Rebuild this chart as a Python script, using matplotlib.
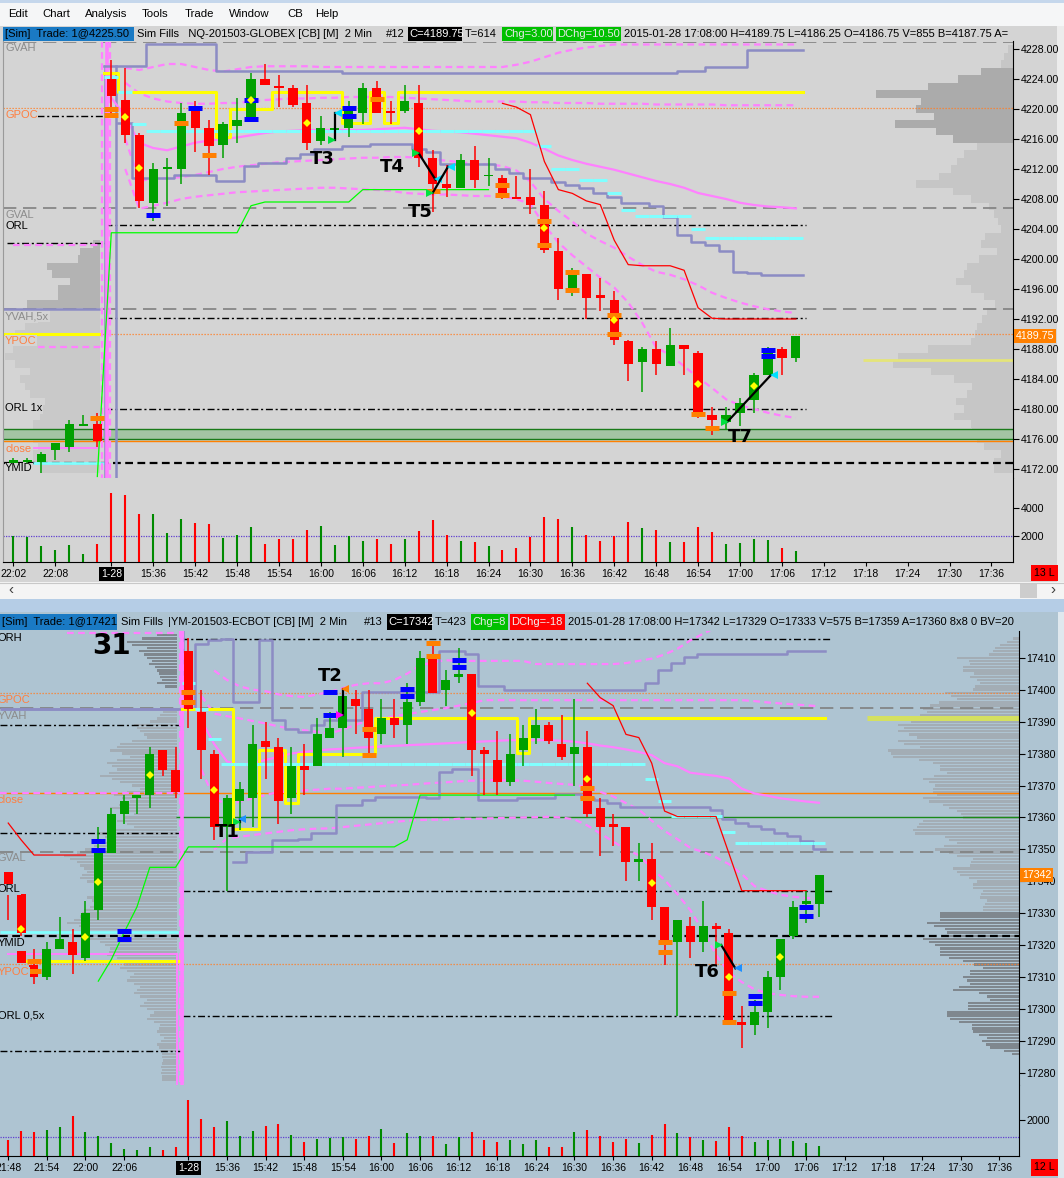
import numpy as np
import matplotlib.pyplot as plt
import matplotlib.transforms as mtransforms
from matplotlib.patches import Rectangle

plt.rcParams['font.family'] = ['Liberation Sans', 'DejaVu Sans']

nan = np.nan
W, H = 1064, 1178

TOP_BG = '#d4d4d4'
BOT_BG = '#aec4d2'
RED = '#ff0000'
GREEN = '#00a000'
VOL_GREEN = '#008a00'
PINK = '#ff80ff'
SLATE = '#8c8cc4'
ORANGE = '#ff8000'

# ================= top chart: NQ 03-15, 2 min bars =================
# bar index 0 = first bar of the 1-28 session (15:30), negative = previous evening
nq_first = -7
nq_open = [4172.75, 4173.0, 4173.0, 4174.5, 4175.0, 4177.75, 4178.0,
           4224.0, 4221.25, 4216.5, 4207.5, 4212.0, 4212.0, 4220.25, 4217.5, 4215.25, 4217.75,
           4218.5, 4224.0, 4223.0, 4222.75, 4220.75, 4215.75, 4217.25, 4217.5, 4219.5, 4222.75,
           4219.75, 4219.75, 4220.75, 4213.5, 4210.0, 4209.5, 4213.25, 4211.0, 4210.75, 4208.25,
           4208.25, 4207.25, 4201.0, 4196.0, 4198.0, 4195.25, 4194.5, 4189.0, 4186.25, 4188.0,
           4185.75, 4188.5, 4187.5, 4179.25, 4178.25, 4179.5, 4181.25, 4184.5, 4188.0, 4186.75]
nq_high = [4173.5, 4173.5, 4174.25, 4175.5, 4178.5, 4179.25, 4179.5,
           4226.5, 4225.5, 4216.75, 4212.75, 4213.5, 4220.75, 4221.0, 4218.5, 4218.25, 4221.5,
           4224.75, 4226.0, 4224.5, 4223.25, 4223.25, 4219.0, 4219.25, 4221.0, 4223.5, 4223.75,
           4221.0, 4223.25, 4223.25, 4214.5, 4212.5, 4214.0, 4215.0, 4213.5, 4211.25, 4211.0,
           4212.0, 4209.0, 4202.75, 4198.75, 4198.0, 4197.5, 4195.75, 4189.25, 4188.25, 4189.0,
           4190.75, 4188.5, 4187.75, 4180.25, 4180.25, 4181.5, 4184.75, 4188.25, 4188.25, 4189.75]
nq_low = [4172.5, 4172.75, 4171.5, 4173.25, 4174.25, 4177.75, 4175.0,
          4219.0, 4215.5, 4206.75, 4205.0, 4207.0, 4210.0, 4214.25, 4211.25, 4213.5, 4215.5,
          4218.25, 4223.25, 4220.25, 4220.25, 4214.5, 4215.25, 4216.0, 4216.25, 4218.0, 4219.5,
          4218.0, 4219.5, 4212.25, 4206.25, 4208.25, 4209.5, 4209.5, 4209.75, 4208.0, 4208.0,
          4206.0, 4200.75, 4194.5, 4195.0, 4192.0, 4193.0, 4188.5, 4183.75, 4182.25, 4184.5,
          4185.75, 4184.5, 4178.75, 4176.5, 4177.25, 4177.75, 4179.5, 4184.5, 4184.5, 4186.25]
nq_close = [4173.25, 4173.25, 4174.0, 4175.5, 4178.0, 4178.0, 4175.75,
            4221.75, 4216.5, 4207.75, 4212.0, 4212.25, 4219.5, 4217.5, 4215.0, 4218.0, 4218.5,
            4224.0, 4223.25, 4222.75, 4220.5, 4215.5, 4217.5, 4217.5, 4220.25, 4222.75, 4219.5,
            4219.5, 4221.0, 4213.5, 4210.0, 4209.5, 4213.25, 4210.5, 4211.25, 4208.25, 4208.0,
            4207.25, 4201.25, 4196.0, 4198.0, 4194.75, 4194.75, 4189.25, 4186.0, 4188.0, 4186.0,
            4188.5, 4188.0, 4179.0, 4178.5, 4179.25, 4180.75, 4184.5, 4187.5, 4186.75, 4189.75]
nq_volume = [2000, 1930, 1250, 960, 1320, 660, 1390,
             5140, 4970, 3590, 3590, 2220, 3220, 2900, 2860, 1830, 2050,
             2640, 1390, 1760, 1760, 2420, 2710, 1320, 1980, 1610, 1760,
             1390, 1760, 2340, 3150, 2050, 1610, 1540, 1250, 960, 1100,
             1900, 3370, 3220, 2640, 2050, 1610, 2000, 3000, 2560, 2420,
             1560, 1560, 2640, 2270, 1420, 1490, 1760, 1710, 1100, 855]
nq_volume_avg = 2000

nq_time_labels = ['22:02', '22:08', '1-28', '15:36', '15:42', '15:48', '15:54', '16:00',
                  '16:06', '16:12', '16:18', '16:24', '16:30', '16:36', '16:42', '16:48',
                  '16:54', '17:00', '17:06', '17:12', '17:18', '17:24', '17:30', '17:36']
nq_price_ticks = [4172, 4176, 4180, 4184, 4188, 4192, 4196, 4200, 4204, 4208, 4212,
                  4216, 4220, 4224, 4228]
nq_last = 4189.75

# session indicators, index 0..49
nq_vwap = [4221.5, 4219, 4215.5, 4214.8, 4214.5, 4215, 4215.5, 4215.8, 4216, 4216.2,
           4216.5, 4216.8, 4217, 4217.1, 4217.2, 4217.2, 4217.2, 4217.2, 4217.2, 4217.3,
           4217.4, 4217.5, 4217.3, 4217.1, 4217, 4216.9, 4216.7, 4216.5, 4216.3, 4216.1,
           4215.5, 4214.7, 4213.8, 4213.2, 4212.7, 4212.3, 4211.9, 4211.4, 4210.9, 4210.4,
           4210, 4209.5, 4208.8, 4208.4, 4208, 4207.5, 4207.2, 4207, 4206.9, 4206.75]
nq_band_u1 = [nan, 4223.5, 4222.1, 4221.4, 4221, 4220.8, 4220.7, 4220.7, 4220.8, 4220.8,
              4221, 4221.2, 4221.3, 4221.4, 4221.4, 4221.5, 4221.5, 4221.6, 4221.6, 4221.6,
              4221.6, 4221.5, 4221.4, 4221.3, 4221.2, 4221.1, 4221, 4221, 4221, 4221,
              4220.9, 4220.9, 4220.8, 4220.8, 4220.8, 4220.7, 4220.7, 4220.7, 4220.7, 4220.6,
              4220.6, 4220.6, 4220.6, 4220.6, 4220.5, 4220.5, 4220.5, 4220.5, 4220.5, 4220.5]
nq_band_u2 = [nan, 4225.5, 4225.2, 4225.6, 4226, 4226, 4225.6, 4225.2, 4225, 4225.3,
              4225.6, 4225.7, 4225.7, 4225.7, 4225.7, 4225.6, 4225.6, 4225.6, 4225.6, 4225.6,
              4225.6, 4225.6, 4225.6, 4225.6, 4225.6, 4225.6, 4225.6, 4225.6, 4225.6, 4225.9,
              4226.3, 4226.9, 4227.5, 4227.9, 4228.2, 4228.4, 4228.6, 4228.6, 4228.6, 4228.6,
              4228.6, 4228.6, 4228.6, 4228.6, 4228.6, 4228.6, 4228.6, 4228.6, 4228.6, 4228.6]
nq_band_l1 = [nan, 4216, 4210.5, 4210.6, 4210.8, 4210.9, 4211.2, 4211.6, 4212, 4212.3,
              4212.5, 4212.7, 4212.9, 4213, 4213.1, 4213.2, 4213.3, 4213.4, 4213.5, 4213.5,
              4213.6, 4213.6, 4213.5, 4213.3, 4213.1, 4212.9, 4212.7, 4212.6, 4212.4, 4211.8,
              4210.3, 4208, 4206.4, 4205, 4203.4, 4202.4, 4201.5, 4200.3, 4199.2, 4198.3,
              4197.9, 4197.3, 4196.5, 4195.5, 4194.8, 4194.2, 4193.7, 4193.3, 4193, 4192.8]
nq_band_l2 = [nan, 4212, 4206.7, 4207.1, 4207.5, 4208, 4208.3, 4208.5, 4208.7, 4208.9,
              4209, 4209.1, 4209.2, 4209.3, 4209.4, 4209.5, 4209.5, 4209.4, 4209.3, 4209.2,
              4209.1, 4208.8, 4208.7, 4208.6, 4208.6, 4208.5, 4208.4, 4208.4, 4208.3, 4208,
              4207.3, 4204.5, 4202.2, 4200.5, 4199, 4197.5, 4196.2, 4194.2, 4191.5, 4188.2,
              4187.2, 4185.7, 4184.2, 4182.8, 4181.3, 4180.5, 4180, 4179.5, 4179.1, 4178.8]
nq_channel_hi = [4225.75, 4225.75, 4225.75, 4228.6, 4228.6, 4228.6, 4228.6, 4228.6, 4225.0, 4225.0,
                 4225.0, 4225.0, 4225.0, 4225.0, 4225.0, 4225.0, 4225.0, 4224.75, 4224.75, 4224.75,
                 4224.75, 4224.75, 4224.75, 4224.75, 4224.75, 4224.75, 4224.75, 4224.75, 4224.75, 4224.75,
                 4224.75, 4224.75, 4224.75, 4224.75, 4224.75, 4224.75, 4224.75, 4224.75, 4224.75, 4224.75,
                 4224.75, 4225.0, 4225.0, 4225.6, 4225.6, 4225.6, 4227.9, 4227.9, 4227.9, 4227.9]
nq_channel_lo = [nan, 4218.1, 4210.75, 4210.75, 4210.75, 4211.2, 4211.2, 4211.2, 4210.4, 4210.4,
                 4212.4, 4212.8, 4212.8, 4213.5, 4214.0, 4214.6, 4214.6, 4215.0, 4215.0, 4215.3,
                 4215.3, 4215.3, 4214.6, 4214.3, 4212.6, 4212.6, 4212.6, 4212.6, 4212.0, 4211.5,
                 4210.8, 4210.8, 4210.3, 4209.9, 4209.5, 4208.8, 4208.3, 4207.5, 4207.5, 4207.0,
                 4205.6, 4203.2, 4202.3, 4201.9, 4201.1, 4198.3, 4198.1, 4197.9, 4197.9, 4197.9]
nq_ib = ([4224.75] + [4222.25] * 7 + [4216.25] + [4220.0] * 3 + [4222.25] * 5
         + [4218.1] * 2 + [4222.25] + [4218.1] + [4222.25] * 29)
nq_poc = ([4224.25, 4222.25, 4218.0] + [4217.0] * 28 + [4215.0] + [4212.0] * 2 + [4210.5] * 2
          + [4208.75, 4206.5] + [4205.75] * 4 + [4204.0] + [4202.75] * 7)
nq_green_first = -1
nq_green = [4171.0] + [4203.5] * 10 + [4207.1] + [4207.6] * 7 + [4209.25] * 10
nq_red_first = 28
nq_red = [4220.75, 4220.25, 4219.25, 4213.0, 4209.25, 4208.75, 4207.75, 4207.25, 4202.5,
          4199.25, 4199.1, 4199.1, 4199.1, 4198.5, 4193.5, 4192.1, 4192.0, 4192.0, 4192.0,
          4192.0, 4192.0, 4192.0]

# order-flow marks (bar index, price)
nq_orange_idx = [-1, 0, 0, 5, 7, 19, 23, 28, 28, 31, 31, 33, 33, 36, 36, 42, 43]
nq_orange_px = [4178.8, 4220.0, 4219.2, 4218.1, 4213.9, 4221.3, 4209.0, 4209.9, 4208.5,
                4205.1, 4201.9, 4198.3, 4195.9, 4192.5, 4190.0, 4179.3, 4177.5]
nq_blue_idx = [3, 6, 10, 10, 17, 17, 47, 47]
nq_blue_px = [4205.9, 4220.2, 4221.2, 4218.7, 4220.2, 4219.1, 4187.8, 4187.1]
nq_dot_idx = [1, 2, 10, 14, 22, 31, 36, 42, 46]
nq_dot_px = [4218.9, 4212.2, 4221.2, 4218.2, 4217.0, 4204.2, 4191.9, 4183.3, 4183.0]

# trades: entry bar, entry price, exit bar, exit price, label, label bar, label price
nq_trades = [(16.0, 4215.9, 16.0, 4219.5, 'T3', 15.1, 4213.3),
             (22.0, 4214.1, 23.2, 4210.6, 'T4', 20.1, 4212.3),
             (23.0, 4208.8, 24.1, 4212.3, 'T5', 22.1, 4206.3),
             (44.1, 4178.3, 47.2, 4184.5, 'T7', 45.0, 4176.3)]

# horizontal reference levels: price, from bar, to bar (None = edge), style
nq_levels = [(4228.9, None, None, 'gray_dash'),
             (4220.1, None, None, 'orange_dot'),
             (4219.1, -5.3, -0.45, 'black_dashdot'),
             (4206.75, None, None, 'gray_dash'),
             (4204.5, -0.45, 49.7, 'black_dashdot'),
             (4202.1, -7.45, -0.45, 'black_dashdot'),
             (4193.3, None, None, 'gray_dash'),
             (4192.2, -0.45, 49.7, 'black_dashdot'),
             (4190.0, None, None, 'orange_dot'),
             (4180.0, -0.45, 49.7, 'black_dashdot'),
             (4175.75, None, None, 'orange_solid'),
             (4172.75, None, None, 'ymid'),
             (4201.9, -7.0, -0.8, 'pink_dash'),
             (4188.3, -5.25, -0.8, 'pink_dash'),
             (4174.8, -5.6, -0.8, 'pink_solid'),
             (4172.8, -5.6, -0.45, 'cyan'),
             (4190.0, None, -0.65, 'yellow'),
             (4193.3, None, -0.8, 'slate'),
             (4186.5, 53.8, None, 'yellow_pale')]
nq_vlines = [(-0.45, 4225.75, None, 'slate'), (0.34, 4225.75, None, 'slate'),
             (-0.69, None, None, 'pink_dash'), (-0.31, None, None, 'pink_thick'),
             (-0.09, None, None, 'pink_dash')]
nq_zone = (4175.95, 4177.4)

nq_level_labels = [('GVAH', 4228.1, '#8c8c8c'), ('GPOC', 4219.2, '#ff7f40'),
                   ('ORL', 4204.4, 'black'), ('GVAL', 4205.9, '#8c8c8c'),
                   ('YVAH,5x', 4192.3, '#8c8c8c'), ('YPOC', 4189.1, '#ff7f40'),
                   ('ORL 1x', 4180.1, 'black'), ('close', 4174.7, '#ff7f40'),
                   ('YMID', 4172.1, 'black')]

# volume at price (pixels of bar length), one value per point, top price first
nq_profile_top = 4228
nq_profile = [5, 9, 12, 32, 55, 85, 137, 92, 97, 79,
              118, 77, 60, 36, 49, 56, 62, 74, 97, 60,
              42, 24, 19, 15, 12, 28, 32, 16, 34, 46,
              49, 57, 42, 29, 18, 26, 31, 36, 38, 42,
              85, 115, 120, 82, 59, 41, 46, 57, 49, 59,
              42, 41, 36, 29, 12, 19, 19]
nq_profile_va = (4216, 4225)
nq_prev_profile_top = 4202
nq_prev_profile = [7, 20, 22, 53, 48, 30, 42, 42, 73, 60, 62, 75, 85, 90, 87, 95, 85, 70,
                   80, 75, 70, 55, 60, 60, 67, 67, 67, 62, 67, 67, 60]
nq_prev_profile_va = (4194, 4202)

# ================= bottom chart: YM 03-15, 2 min bars =================
ym_first = -14
ym_open = [17343, 17336, 17314, 17310, 17319, 17321, 17316, 17331, 17349, 17361, 17366, 17367, 17381, 17375,
           17412, 17393, 17380, 17357, 17365, 17366, 17384, 17382, 17366, 17376,
           17376, 17385, 17388, 17397, 17394, 17386, 17391, 17389, 17396, 17410,
           17400, 17404, 17405, 17381, 17378, 17371, 17381, 17385, 17389, 17383,
           17380, 17382, 17363, 17358, 17357, 17346, 17347, 17332, 17321, 17326,
           17321, 17326, 17324, 17296, 17295, 17299, 17310, 17323, 17333, 17333]
ym_high = [17343, 17336, 17319, 17321, 17329, 17325, 17334, 17357, 17363, 17367, 17367, 17382, 17381, 17382,
           17416, 17400, 17381, 17367, 17371, 17389, 17390, 17385, 17382, 17383,
           17391, 17393, 17400, 17400, 17400, 17397, 17397, 17402, 17412, 17414,
           17406, 17413, 17405, 17382, 17387, 17386, 17389, 17394, 17390, 17392,
           17397, 17387, 17366, 17361, 17357, 17352, 17352, 17332, 17328, 17329,
           17334, 17327, 17325, 17301, 17303, 17312, 17322, 17334, 17337, 17342]
ym_low = [17328, 17323, 17308, 17309, 17319, 17311, 17315, 17328, 17349, 17358, 17361, 17363, 17373, 17366,
          17388, 17372, 17353, 17337, 17356, 17357, 17372, 17358, 17361, 17367,
          17376, 17385, 17379, 17386, 17379, 17383, 17385, 17383, 17395, 17399,
          17395, 17402, 17373, 17367, 17367, 17370, 17376, 17383, 17383, 17378,
          17370, 17360, 17348, 17351, 17340, 17340, 17328, 17314, 17298, 17316,
          17318, 17314, 17295, 17288, 17292, 17294, 17306, 17322, 17327, 17329]
ym_close = [17336, 17324, 17310, 17319, 17322, 17317, 17330, 17349, 17361, 17365, 17367, 17380, 17375, 17368,
            17394, 17381, 17357, 17366, 17369, 17383, 17382, 17365, 17376, 17375,
            17386, 17388, 17398, 17395, 17385, 17391, 17389, 17396, 17410, 17399,
            17403, 17405, 17381, 17380, 17371, 17380, 17385, 17389, 17384, 17379,
            17382, 17361, 17357, 17357, 17346, 17347, 17332, 17321, 17328, 17321,
            17326, 17325, 17296, 17295, 17299, 17310, 17322, 17332, 17334, 17342]
ym_volume = [896, 1400, 1315, 1456, 1624, 2184, 1344, 1120, 728, 392, 336, 504, 336, 504,
             3080, 2072, 1624, 1960, 1120, 1400, 1680, 1792, 1176, 784,
             952, 1008, 1045, 952, 1120, 1512, 728, 1288, 1120, 1120,
             672, 1045, 1344, 896, 784, 896, 672, 896, 504, 504,
             1344, 1456, 1120, 784, 952, 728, 1176, 1792, 1288, 1045,
             896, 840, 1624, 1120, 784, 896, 952, 840, 728, 575]
ym_volume_avg = 1030

ym_time_labels = ['21:48', '21:54', '22:00', '22:06', '1-28', '15:36', '15:42', '15:48',
                  '15:54', '16:00', '16:06', '16:12', '16:18', '16:24', '16:30', '16:36',
                  '16:42', '16:48', '16:54', '17:00', '17:06', '17:12', '17:18', '17:24',
                  '17:30', '17:36']
ym_price_ticks = [17280, 17290, 17300, 17310, 17320, 17330, 17340, 17350, 17360, 17370,
                  17380, 17390, 17400, 17410]
ym_last = 17342

ym_vwap = [17400, 17390.5, 17383, 17377.5, 17376.5, 17377, 17378, 17379, 17380, 17380.5,
           17381, 17381.3, 17381.5, 17381.8, 17382, 17382.2, 17382.4, 17382.6, 17382.8, 17383,
           17383.2, 17383.4, 17383.6, 17383.8, 17384, 17384.2, 17384.2, 17384.2, 17384.2, 17384,
           17383.7, 17383.2, 17382.5, 17382, 17381.3, 17380.5, 17379.5, 17377, 17376, 17374,
           17373.5, 17373, 17372.2, 17369, 17367.5, 17366.8, 17366, 17365.5, 17365, 17364.6]
ym_band_u1 = ([nan, 17398, 17392.5, 17391.7, 17391, 17390.2, 17389.4, 17388.5, 17387.7, 17387.3,
               17386.8, 17386.3, 17387.5, 17389, 17390.4, 17391, 17391.7, 17392.3, 17393, 17393.6,
               17394.2, 17395, 17395.8] + [17396.7] * 21 + [17396.4, 17396, 17395.7, 17395.4, 17395.1, 17394.8])
ym_band_u2 = [nan, nan, 17406, 17403, 17401, 17400, 17399.5, 17398.5, 17398, 17397.7,
              17398.5, 17399.3, 17400.5, 17401.5, 17402, 17402, 17403, 17405, 17407.5, 17408.6,
              17409.2, 17409, 17409, 17409, 17409, 17409, 17409, 17408, 17408, 17408,
              17408, 17408, 17408, 17408, 17408.3, 17409, 17409.7, 17411, 17412.8, 17415.4,
              17417.5, 17419.5, 17419.5, 17419.5, 17419.5, 17419.5, 17419.5, 17419.5, 17419.5, 17419.5]
ym_band_l1 = [nan, 17375, 17366, 17364, 17365, 17366, 17367, 17368, 17368, 17368.5,
              17368.7, 17369, 17369, 17369.3, 17369.5, 17369.8, 17370, 17370.2, 17370.5, 17370.8,
              17371, 17371.3, 17371.5, 17371.6, 17371.7, 17371.6, 17371.5, 17371.2, 17370.8, 17370.5,
              17370.2, 17369.5, 17368, 17366.6, 17364.5, 17362.5, 17359, 17355.8, 17353.2, 17350.5,
              17349.2, 17347.5, 17345.4, 17342.3, 17338.5, 17337, 17335.8, 17335.2, 17334.8, 17334.7]
ym_band_l2 = [nan, nan, 17350, 17353.4, 17354, 17354.5, 17355, 17355.5, 17356, 17356.3,
              17356.5, 17356.6, 17357, 17357.4, 17357.8, 17358.2, 17358.6, 17359, 17359.2, 17359.3,
              17359.3, 17359.6, 17359.6, 17359.7, 17359.8, 17359.9, 17360, 17360.1, 17360.2, 17360,
              17359.4, 17357.5, 17355, 17352.5, 17350, 17348.2, 17344, 17340.5, 17336, 17331,
              17324.5, 17317, 17311.5, 17308.5, 17306.2, 17305, 17304.5, 17304.1, 17303.9, 17303.9]
ym_channel_hi_first = -14
ym_channel_hi = ([17394] * 15 + [17414.4, 17415.4, 17415.9, 17396.1, 17396.1, 17415.4, 17390.4, 17387.8,
                 17386.8, 17388.8, 17390.4, 17390.4, 17390.4] + [17399.25] * 6
                 + [17412, 17412, 17411.25, 17401.25, 17401.25] + [17400] * 11
                 + [17402, 17406, 17408.25, 17410.25] + [17411.25] * 7 + [17412] * 3)
ym_channel_lo_first = 4
ym_channel_lo = ([17346.1, 17349.25, 17349.25, 17353, 17353, 17353.4, 17355, 17355, 17363.8, 17363.8,
                  17365.4] + [17366.4] * 4 + [17366, 17374.25, 17375.25, 17375.25]
                 + [17365.5] * 3 + [17366.25] * 3 + [17367.25] * 2 + [17366.25, 17365.5, 17364.5]
                 + [17363.25] * 7 + [17362.25, 17359.5, 17358.25, 17357.25, 17356.25, 17355.25,
                                     17354.25, 17352.5, 17350.25])
ym_ib = ([17394] * 4 + [17356.25] * 2 + [17381] * 2 + [17364.4] + [17380] * 6 + [17391] * 11
         + [17380.25] + [17391] * 23)
ym_poc = ([17402, 17394, 17384.7] + [17376.7] * 33 + [17372, 17365.1] + [17360.4] * 4
          + [17355.5] + [17352.1] * 7)
ym_green_first = -7
ym_green = ([17308.8, 17315.5, 17324, 17332, 17344.4, 17344.4, 17344.4] + [17350.8] * 17
            + [17353] + [17367] * 13)
ym_red_prev_first = -14
ym_red_prev = [17358.25, 17353, 17348.25, 17348.25, 17348.25, 17348.25, 17348.25]
ym_red_first = 31
ym_red = ([17402, 17397.5, 17395, 17386, 17385, 17377, 17362, 17360.3, 17360.3, 17360.3,
           17360.3, 17348.75] + [17337.1] * 6)

ym_orange_idx = [-12, -12, 0, 0, 14, 14, 19, 19, 31, 31, 37, 37, 42, 42]
ym_orange_px = [17315.1, 17312.0, 17399.2, 17396.1, 17387.6, 17379.7, 17414.6, 17410.4,
                17369.25, 17366.25, 17321.1, 17318.0, 17305.2, 17296.1]
ym_blue_idx = [-7, -7, -5, -5, 11, 11, 17, 17, 21, 21, 44, 44, 48, 48]
ym_blue_px = [17352.6, 17349.9, 17324.5, 17322.0, 17399.25, 17392.2, 17400.2, 17398.0,
              17409.2, 17407.1, 17304.25, 17302.0, 17332.1, 17329.25]
ym_dot_idx = [-13, -8, -7, -3, 2, 22, 31, 36, 42, 46]
ym_dot_px = [17325.0, 17322.7, 17339.9, 17373.4, 17368.5, 17392.8, 17371.9, 17339.4,
             17310.0, 17316.4]
ym_extra_body = (-13, 17314.4, 17318.2)

ym_trades = [(4.0, 17358.5, 4.0, 17359.5, 'T1', 3.0, 17355.4),
             (12.0, 17392.0, 12.0, 17400.3, 'T2', 11.0, 17404.2),
             (41.4, 17320.1, 42.5, 17312.8, 'T6', 40.3, 17311.7)]
ym_trade_colors = [('#00e040', '#1e90ff'), ('#ff00ff', '#ff8000'), ('#00e040', '#1e90ff')]

ym_levels = [(17415.9, -0.6, 50, 'black_dashdot'),
             (17399.1, None, None, 'orange_dot'),
             (17394.1, None, None, 'gray_dash'),
             (17389.0, None, -0.6, 'black_dashdot'),
             (17367.8, None, None, 'orange_solid'),
             (17360.0, -1.0, None, 'green_solid'),
             (17355.0, None, -0.6, 'black_dashdot'),
             (17349.1, None, None, 'gray_dash'),
             (17337.0, -0.4, 50, 'black_dashdot'),
             (17323.0, None, None, 'ymid'),
             (17314.2, None, None, 'orange_dot'),
             (17298.0, -0.4, 50, 'black_dashdot'),
             (17286.8, None, -0.6, 'black_dashdot'),
             (17317.2, -14.1, -0.9, 'pink_solid'),
             (17417.6, -9.4, -0.9, 'pink_dash'),
             (17367.6, None, -0.5, 'pink_dash'),
             (17315.2, -12.7, -0.6, 'yellow'),
             (17324.1, None, -0.6, 'cyan'),
             (17394.0, None, -0.6, 'slate'),
             (17391.0, 52.7, None, 'yellow_band')]
ym_vlines = [(-0.9, 17317.2, None, 'pink_solid'), (-0.44, None, 17394.0, 'slate'),
             (-0.65, None, None, 'pink_dash'), (-0.53, None, None, 'pink_thick'),
             (-0.4, None, None, 'pink_dash')]

ym_level_labels = [('ORH', 17416.3, 'black'), ('GPOC', 17396.7, '#ff7f40'),
                   ('YVAH', 17391.7, '#8c8c8c'), ('close', 17365.4, '#ff7f40'),
                   ('ORL', 17337.6, 'black'), ('GVAL', 17347.3, '#8c8c8c'),
                   ('YMID', 17320.7, 'black'), ('YPOC', 17311.6, '#ff7f40'),
                   ('ORL 0,5x', 17298.2, 'black')]

ym_profile_top = 17416
ym_profile = [6, 12, 19, 24, 26, 30, 62, 50, 49, 56,
              56, 45, 49, 42, 39, 44, 46, 74, 68, 62,
              80, 89, 96, 92, 99, 112, 108, 121, 115, 121,
              110, 102, 121, 115, 99, 131, 128, 126, 100, 86,
              79, 79, 72, 85, 96, 90, 84, 86, 86, 82,
              96, 90, 76, 70, 62, 58, 56, 96, 100, 102,
              106, 104, 74, 70, 62, 75, 84, 70, 62, 46,
              48, 49, 66, 62, 59, 50, 42, 46, 46, 36,
              38, 39, 32, 34, 36, 36, 79, 79, 79, 92,
              85, 74, 72, 71, 96, 90, 84, 79, 79, 79,
              70, 56, 45, 36, 49, 49, 56, 52, 49, 60,
              66, 40, 32, 29, 51, 51, 51, 72, 72, 69,
              60, 47, 47, 46, 40, 32, 37, 33, 29, 15,
              7]
ym_profile_va = (17280, 17330)
ym_prev_profile_top = 17417
ym_prev_profile = [20, 35, 50, 45, 30, 38, 33, 30, 25, 28,
                   22, 20, 18, 17, 15, 20, 12, 0, 0, 0,
                   0, 0, 0, 10, 14, 17, 20, 27, 43, 40,
                   37, 33, 30, 45, 57, 60, 67, 55, 47, 60,
                   70, 65, 60, 68, 77, 65, 57, 45, 37, 50,
                   63, 55, 47, 58, 67, 55, 43, 52, 60, 50,
                   43, 62, 80, 72, 67, 75, 83, 92, 100, 113,
                   107, 100, 97, 93, 90, 95, 97, 90, 83, 80,
                   77, 83, 90, 85, 80, 87, 93, 95, 97, 103,
                   110, 98, 87, 93, 100, 88, 77, 72, 67, 68,
                   70, 60, 50, 53, 57, 50, 43, 47, 50, 43,
                   37, 40, 43, 37, 30, 33, 37, 30, 23, 27,
                   30, 23, 17, 18, 20, 17, 13, 16, 20, 18,
                   17, 15, 15, 14, 15, 16, 15, 16, 15, 15]
ym_prev_profile_va = (17401, 17420)

# ---------------------------------------------------------------------
LEVEL_STYLE = {
    'gray_dash': dict(color='#808080', lw=1.2, dashes=(8, 4)),
    'black_dashdot': dict(color='black', lw=1.0, dashes=(5, 2, 1.5, 2)),
    'ymid': dict(color='black', lw=1.6, dashes=(3.5, 2)),
    'orange_dot': dict(color='#ff7f27', lw=0.9, dashes=(1, 1.4)),
    'orange_solid': dict(color=ORANGE, lw=1.0),
    'green_solid': dict(color='#1a8a1a', lw=1.0),
    'pink_dash': dict(color=PINK, lw=1.6, dashes=(3, 2)),
    'pink_solid': dict(color=PINK, lw=1.4),
    'pink_thick': dict(color=PINK, lw=2.6),
    'cyan': dict(color='#80ffff', lw=2.0),
    'yellow': dict(color='#ffff00', lw=2.2),
    'slate': dict(color=SLATE, lw=1.8),
    'yellow_pale': dict(color='#e4e47a', lw=2.0),
    'yellow_band': dict(color='#d4e060', lw=3.6),
}


def bar_index(label):
    if label == '1-28':
        return 0
    h, m = map(int, label.split(':'))
    minutes = h * 60 + m
    if h >= 21:                        # previous evening session, last bar 22:14
        return (minutes - (22 * 60 + 16)) / 2
    return (minutes - (15 * 60 + 30)) / 2


fig = plt.figure(figsize=(W / 100, H / 100), dpi=100)
fig.patch.set_facecolor('#b9d1ea')


def px_axes(x0, y0, x1, y1):
    return fig.add_axes([x0 / W, 1 - y1 / H, (x1 - x0) / W, (y1 - y0) / H])


bg = px_axes(0, 0, W, H)
bg.set_xlim(0, W)
bg.set_ylim(H, 0)
bg.axis('off')


def box(x0, y0, x1, y1, color):
    bg.add_patch(Rectangle((x0, y0), x1 - x0, y1 - y0, facecolor=color, edgecolor='none'))


def label(x, y, s, color='black', size=8.0, ha='left', **kw):
    bg.text(x, y, s, color=color, fontsize=size, ha=ha, va='center', **kw)


# window chrome
box(0, 0, W, 3, '#c5d7ec')
box(0, 3, W, 26, '#f5f6f7')
for x, s in [(8, 'Edit'), (42, 'Chart'), (85, 'Analysis'), (142, 'Tools'), (185, 'Trade'),
             (229, 'Window'), (287, 'CB'), (315, 'Help')]:
    label(x, 14, s, size=8.2)
box(0, 26, W, 582, TOP_BG)
box(1057, 26, W, 582, '#ececec')
box(0, 582, W, 599, '#f4f4f4')
bg.plot([0, W], [582.5, 582.5], color='#c8c8c8', lw=0.8)
box(1020, 584, 1037, 598, '#cdcdcd')
label(8, 590, '\u2039', color='#404040', size=11)
label(1050, 590, '\u203a', color='#404040', size=11)
box(0, 599, W, 612, '#b5cde6')
box(0, 612, W, H, BOT_BG)
box(1058, 612, W, H, '#dfe8ee')

# top header
box(3.4, 27, 134.3, 41, '#1a7ac4')
label(5, 34, '[Sim]  Trade: 1@4225.50')
label(137, 34, 'Sim Fills   NQ-201503-GLOBEX [CB] [M]  2 Min')
label(386, 34, '#12')
box(407.7, 27, 462, 41, 'black')
label(409, 34, 'C=4189.75', color='white')
label(465, 34, 'T=614')
box(502, 27, 553, 41, '#00c000')
label(504, 34, 'Chg=3.00', color='#e8e8e8')
box(555.6, 27, 620.8, 41, '#00c000')
label(557, 34, 'DChg=10.50', color='#e8e8e8')
label(624, 34, '2015-01-28 17:08:00 H=4189.75 L=4186.25 O=4186.75 V=855 B=4187.75 A=')

# bottom header
box(0, 614, 117.4, 630, '#1a7ac4')
label(2, 622, '[Sim]  Trade: 1@17421')
label(121, 622, 'Sim Fills')
label(168, 622, '|YM-201503-ECBOT [CB] [M]  2 Min')
label(364, 622, '#13')
box(386.7, 614, 432, 630, 'black')
label(388, 622, 'C=17342', color='white')
label(435, 622, 'T=423')
box(470.8, 614, 508, 630, '#00c000')
label(472, 622, 'Chg=8', color='#e8e8e8')
box(509.5, 614, 564.5, 630, '#ff0000')
label(511, 622, 'DChg=-18', color='#f0f0f0')
label(568, 622, '2015-01-28 17:08:00 H=17342 L=17329 O=17333 V=575 B=17359 A=17360 8x8 0 BV=20')

# volume captions and bar-count boxes
label(10, 486, 'Volume')
label(57, 486, 'Volume: 855', color='#008a00')
label(3, 1094, 'Volume')
label(51, 1094, 'Volume: 575', color='#008a00')
box(1031, 565, 1058, 581, RED)
label(1044.5, 573, '13 L', ha='center', size=7.7)
box(1031, 1159, 1058, 1176, RED)
label(1044.5, 1167.5, '12 L', ha='center', size=7.7)


# ---------------------------------------------------------------------
def draw_levels(ax, levels):
    xl = ax.get_xlim()
    for p, x0, x1, key in levels:
        ax.plot([xl[0] if x0 is None else x0, xl[1] if x1 is None else x1], [p, p],
                zorder=2, solid_capstyle='butt', **LEVEL_STYLE[key])


def draw_vlines(ax, vlines):
    yl = ax.get_ylim()
    for x, p_top, p_bot, key in vlines:
        ax.plot([x, x], [yl[1] if p_top is None else p_top, yl[0] if p_bot is None else p_bot],
                zorder=2.5, **LEVEL_STYLE[key])


def draw_profile(ax, top, vals, anchor, px_per_bar, va, light, dark, height):
    vals = np.asarray(vals, float)
    prices = top - np.arange(len(vals))
    widths = vals / px_per_bar
    cols = np.where((prices >= va[0]) & (prices <= va[1]), dark, light)
    ax.barh(prices, widths, left=anchor - widths, height=height, color=cols, lw=0, zorder=1)


def step_line(ax, first, vals, **kw):
    vals = np.asarray(vals, float)
    x = np.arange(first, first + len(vals)) - 0.5
    ax.plot(np.append(x, x[-1] + 1), np.append(vals, vals[-1]), drawstyle='steps-post',
            zorder=3, **kw)


def segments(ax, first, vals, **kw):
    vals = np.asarray(vals, float)
    x = np.arange(first, first + len(vals))
    ok = ~np.isnan(vals)
    ax.hlines(vals[ok], x[ok] - 0.5, x[ok] + 0.5, zorder=3, **kw)


def curve(ax, first, vals, **kw):
    ax.plot(np.arange(first, first + len(vals)), vals, zorder=3, **kw)


def draw_candles(ax, first, o, h, l, c, body_w, min_body):
    o, h, l, c = (np.asarray(a, float) for a in (o, h, l, c))
    idx = np.arange(first, first + len(o))
    cols = np.where(c > o, GREEN, RED)
    ax.vlines(idx, l, h, colors=cols, lw=1.1, zorder=4)
    lo = np.minimum(o, c)
    body = np.maximum(np.abs(c - o), min_body)
    ax.bar(idx, body, body_w, bottom=lo - (body - np.abs(c - o)) / 2, color=cols, lw=0, zorder=4.5)


def draw_volume(axv, first, vols, o, c):
    idx = np.arange(first, first + len(vols))
    cols = np.where(np.asarray(c) > np.asarray(o), VOL_GREEN, RED)
    axv.vlines(idx, 0, vols, colors=cols, lw=1.5, zorder=3)


def marks(ax, idx, px, color, marker, ms, mew=0.0, z=5):
    ax.plot(idx, px, ls='none', marker=marker, ms=ms, mew=mew, color=color, mec=color, zorder=z)


def draw_trades(ax, trades, colors):
    for (xi, pi, xo, po, name, lx, lp), (ci, co) in zip(trades, colors):
        ax.plot([xi, xo], [pi, po], color='black', lw=1.6, zorder=6)
        marks(ax, [xi - 0.2], [pi], ci, '>', 6, z=6)
        marks(ax, [xo + 0.2], [po], co, '<', 6, z=6)
        ax.text(lx, lp, name, fontsize=13, fontweight='bold', family='DejaVu Sans',
                ha='center', va='center', zorder=7)


def level_labels(ax, items, x, face):
    for s, p, col in items:
        ax.text(x, p, s, color=col, fontsize=8, ha='left', va='center', zorder=7, clip_on=True,
                bbox=dict(facecolor=face, edgecolor='none', pad=0.4))


def style_axes(ax, axv, face, price_ticks, vol_ticks, time_labels, last, last_fmt, tick_fmt):
    for a in (ax, axv):
        a.set_facecolor(face)
        a.spines['top'].set_visible(False)
        a.spines['left'].set_color('#9a9a9a')
        a.yaxis.tick_right()
        a.tick_params(axis='y', direction='out', length=4, width=0.8, pad=1.5,
                      labelsize=7.7, colors='black')
    ax.spines['bottom'].set_visible(False)
    ax.tick_params(axis='x', bottom=False, labelbottom=False)
    ax.set_yticks(price_ticks)
    ax.set_yticklabels([tick_fmt.format(t) for t in price_ticks])
    axv.set_yticks(vol_ticks)
    axv.set_yticklabels([str(v) for v in vol_ticks])
    axv.set_xticks([bar_index(t) for t in time_labels])
    lbls = axv.set_xticklabels(time_labels)
    axv.tick_params(axis='x', length=3, width=0.8, pad=2, labelsize=7.5)
    for t in lbls:
        if t.get_text() == '1-28':
            t.set_color('white')
            t.set_bbox(dict(facecolor='black', edgecolor='none', pad=1.6))
    tr = mtransforms.blended_transform_factory(ax.transAxes, ax.transData)
    ax.text(1.003, last, last_fmt.format(last), transform=tr, ha='left', va='center',
            color='white', fontsize=7.7, zorder=10, clip_on=False,
            bbox=dict(facecolor=ORANGE, edgecolor='none', pad=1.3))


# ================= top chart =================
nq_px_bar = 13.97
ax1 = px_axes(3.3, 41.5, 1012.7, 478)
ax1v = px_axes(3.3, 478, 1012.7, 562)
ax1.set_xlim(-7.73, 64.52)
ax1.set_ylim(4170.8, 4229.0)
ax1v.set_xlim(-7.73, 64.52)
ax1v.set_ylim(80, 6212)
style_axes(ax1, ax1v, TOP_BG, nq_price_ticks, [2000, 4000], nq_time_labels, nq_last,
           '{:.2f}', '{:.2f}')

draw_profile(ax1, nq_profile_top, nq_profile, 64.52, nq_px_bar, nq_profile_va,
             '#c6c6c6', '#ababab', 1.0)
draw_profile(ax1, nq_prev_profile_top, nq_prev_profile, -0.81, nq_px_bar, nq_prev_profile_va,
             '#c9c9c9', '#b3b3b3', 1.0)
ax1.axhspan(nq_zone[0], nq_zone[1], facecolor='#a3c4a3', edgecolor='none', zorder=1.5)
for p in nq_zone:
    ax1.axhline(p, color='#1a7a1a', lw=1.0, zorder=1.6)
draw_levels(ax1, nq_levels)
draw_vlines(ax1, nq_vlines)

curve(ax1, 0, nq_vwap, color=PINK, lw=1.6)
for band in (nq_band_u1, nq_band_u2, nq_band_l1, nq_band_l2):
    curve(ax1, 0, band, color=PINK, lw=1.6, dashes=(3, 2))
step_line(ax1, 0, nq_channel_hi, color=SLATE, lw=1.8)
step_line(ax1, 0, nq_channel_lo, color=SLATE, lw=1.8)
step_line(ax1, 0, nq_ib, color='#ffff00', lw=2.2)
segments(ax1, 0, nq_poc, color='#80ffff', lw=2.2)
curve(ax1, nq_green_first, nq_green, color='#00ff00', lw=0.9)
curve(ax1, nq_red_first, nq_red, color=RED, lw=0.9)

draw_candles(ax1, nq_first, nq_open, nq_high, nq_low, nq_close, 0.66, 0.2)
marks(ax1, nq_orange_idx, nq_orange_px, ORANGE, '_', 9.4, 3.6)
marks(ax1, nq_blue_idx, nq_blue_px, '#0000ff', '_', 9.4, 3.6)
marks(ax1, nq_dot_idx, nq_dot_px, '#ffff00', 'D', 4.2)
draw_trades(ax1, nq_trades, [('#00e040', '#00e0ff')] * len(nq_trades))
level_labels(ax1, nq_level_labels, -7.6, TOP_BG)

draw_volume(ax1v, nq_first, nq_volume, nq_open, nq_close)
ax1v.axhline(nq_volume_avg, color='#6040d0', lw=0.9, dashes=(1, 1), zorder=2)

# ================= bottom chart =================
ym_px_bar = 12.87
ax2 = px_axes(0, 630.5, 1019, 1085)
ax2v = px_axes(0, 1085, 1019, 1156)
ax2.set_xlim(-14.64, 64.54)
ax2.set_ylim(17276.3, 17418.5)
ax2v.set_xlim(-14.64, 64.54)
ax2v.set_ylim(0, 3923)
style_axes(ax2, ax2v, BOT_BG, ym_price_ticks, [2000], ym_time_labels, ym_last,
           '{:d}', '{:d}')
for a in (ax2, ax2v):
    a.spines['left'].set_visible(False)

draw_profile(ax2, ym_profile_top, ym_profile, 64.54, ym_px_bar, ym_profile_va,
             '#a3adb5', '#7f878e', 0.72)
draw_profile(ax2, ym_prev_profile_top, ym_prev_profile, -0.91, ym_px_bar, ym_prev_profile_va,
             '#a3adb5', '#7f878e', 0.72)
draw_levels(ax2, ym_levels)
draw_vlines(ax2, ym_vlines)

curve(ax2, 0, ym_vwap, color=PINK, lw=1.6)
for band in (ym_band_u1, ym_band_u2, ym_band_l1, ym_band_l2):
    curve(ax2, 0, band, color=PINK, lw=1.6, dashes=(3, 2))
step_line(ax2, ym_channel_hi_first, ym_channel_hi, color=SLATE, lw=1.8)
step_line(ax2, ym_channel_lo_first, ym_channel_lo, color=SLATE, lw=1.8)
step_line(ax2, 0, ym_ib, color='#ffff00', lw=2.2)
segments(ax2, 0, ym_poc, color='#80ffff', lw=2.2)
curve(ax2, ym_green_first, ym_green, color='#00ff00', lw=0.9)
curve(ax2, ym_red_prev_first, ym_red_prev, color=RED, lw=0.9)
curve(ax2, ym_red_first, ym_red, color=RED, lw=0.9)

draw_candles(ax2, ym_first, ym_open, ym_high, ym_low, ym_close, 0.7, 0.5)
ax2.bar(ym_extra_body[0], ym_extra_body[2] - ym_extra_body[1], 0.7, bottom=ym_extra_body[1],
        color=RED, lw=0, zorder=4.5)
marks(ax2, ym_orange_idx, ym_orange_px, ORANGE, '_', 9.4, 3.6)
marks(ax2, ym_blue_idx, ym_blue_px, '#0000ff', '_', 9.4, 3.6)
marks(ax2, ym_dot_idx, ym_dot_px, '#ffff00', 'D', 4.2)
draw_trades(ax2, ym_trades, ym_trade_colors)
level_labels(ax2, ym_level_labels, -14.8, BOT_BG)
ax2.text(-6.0, 17413.8, '31', fontsize=20, fontweight='bold', family='DejaVu Sans',
         ha='center', va='center', zorder=7)

draw_volume(ax2v, ym_first, ym_volume, ym_open, ym_close)
ax2v.axhline(ym_volume_avg, color='#6040d0', lw=0.9, dashes=(1, 1), zorder=2)

fig.savefig('out.png', dpi=100, facecolor=fig.get_facecolor())
